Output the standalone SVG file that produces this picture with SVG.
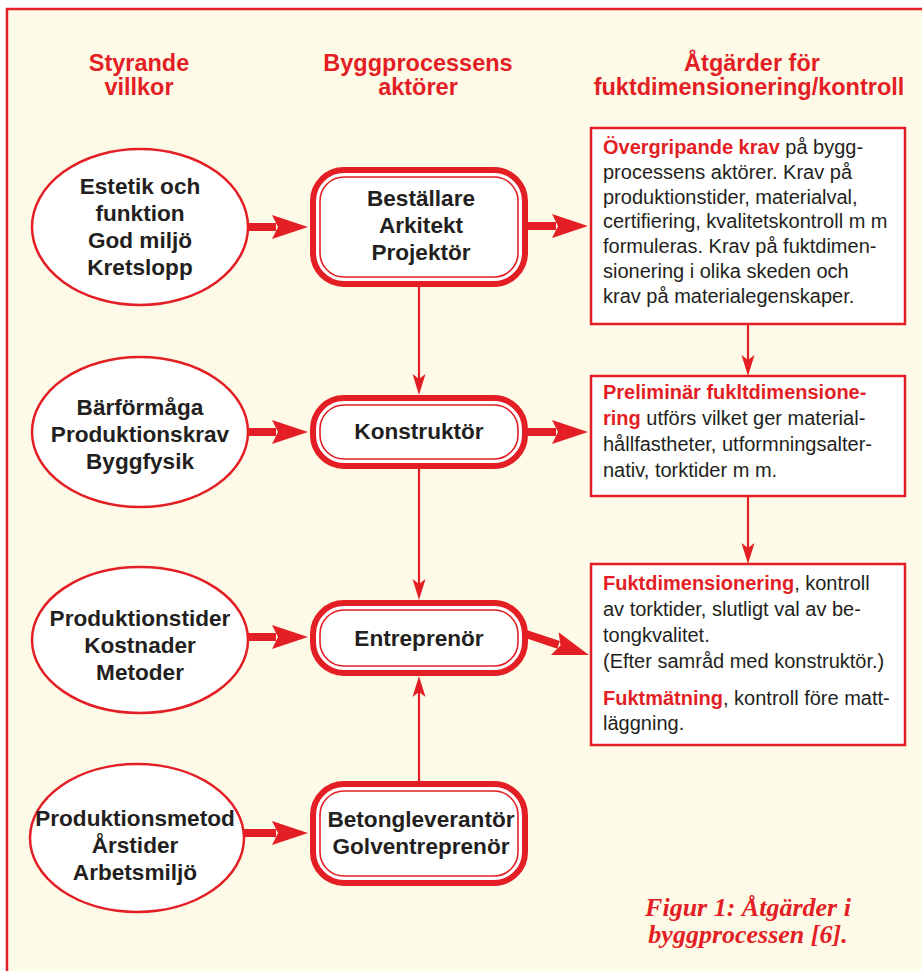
<svg xmlns="http://www.w3.org/2000/svg" width="922" height="971" viewBox="0 0 922 971">
<style>
.hdr{font-family:"Liberation Sans",Arial,sans-serif;font-weight:bold;font-size:23.5px;fill:#E31E24;text-anchor:middle}
.nt{font-family:"Liberation Sans",Arial,sans-serif;font-weight:bold;font-size:22.6px;fill:#231F20;text-anchor:middle}
.bt{font-family:"Liberation Sans",Arial,sans-serif;font-size:20px;fill:#231F20}
.hl{font-weight:bold;fill:#E31E24}
.ell{fill:#FFFFFF;stroke:#E31E24;stroke-width:2.5}
.outer{fill:#FFFFFF;stroke:#E31E24;stroke-width:6}
.inner{fill:none;stroke:#E31E24;stroke-width:1.6}
.rbox{fill:#FFFFFF;stroke:#E31E24;stroke-width:2.5}
.thick{stroke:#E31E24;stroke-width:8;fill:none;marker-end:url(#mThick)}
.thin{stroke:#E31E24;stroke-width:2.2;fill:none;marker-end:url(#mThin)}
.cap{font-family:"Liberation Serif","Times New Roman",serif;font-weight:bold;font-style:italic;font-size:26px;fill:#E31E24;text-anchor:middle}
</style>
<defs>
<marker id="mThick" markerUnits="userSpaceOnUse" markerWidth="40" markerHeight="30" refX="0" refY="0" orient="auto" overflow="visible">
<path d="M32,0 L-4,-12 L2,0 L-4,12 Z" fill="#E31E24"/>
</marker>
<marker id="mThin" markerUnits="userSpaceOnUse" markerWidth="24" markerHeight="16" refX="0" refY="0" orient="auto" overflow="visible">
<path d="M10,0 L-11,-6.5 L-6,0 L-11,6.5 Z" fill="#E31E24"/>
</marker>
</defs>
<rect x="0" y="0" width="922" height="971" fill="#FFFFFF"/>
<rect id="frame" x="7" y="9" width="930" height="980" fill="#FEFAE8" stroke="#E31E24" stroke-width="2.5"/>

<g id="headers">
<text class="hdr" x="139" y="71">Styrande</text>
<text class="hdr" x="139" y="95">villkor</text>
<text class="hdr" x="418" y="71">Byggprocessens</text>
<text class="hdr" x="418" y="95">aktörer</text>
<text class="hdr" x="752" y="71">Åtgärder för</text>
<text class="hdr" x="749" y="95">fuktdimensionering/kontroll</text>
</g>

<g id="connectors">
<line class="thick" x1="240" y1="227" x2="276" y2="227"/>
<line class="thick" x1="240" y1="432" x2="276" y2="432"/>
<line class="thick" x1="240" y1="637" x2="276" y2="637"/>
<line class="thick" x1="236" y1="833" x2="276" y2="833"/>
<line class="thick" x1="520" y1="226" x2="556" y2="226"/>
<line class="thick" x1="520" y1="432" x2="556" y2="432"/>
<line class="thick" x1="520" y1="632" x2="558.6" y2="644.9"/>
<line class="thin" x1="419" y1="284" x2="419" y2="385"/>
<line class="thin" x1="419" y1="466" x2="419" y2="590"/>
<line class="thin" x1="419" y1="784" x2="419" y2="686"/>
<line class="thin" x1="748" y1="324" x2="748" y2="366"/>
<line class="thin" x1="748" y1="496" x2="748" y2="554"/>
</g>

<g id="cond1">
<ellipse class="ell" cx="140" cy="227" rx="108" ry="78"/>
<text class="nt" x="140" y="194">Estetik och</text>
<text class="nt" x="140" y="221">funktion</text>
<text class="nt" x="140" y="248">God miljö</text>
<text class="nt" x="140" y="275">Kretslopp</text>
</g>
<g id="cond2">
<ellipse class="ell" cx="140" cy="432" rx="108" ry="75"/>
<text class="nt" x="140" y="415">Bärförmåga</text>
<text class="nt" x="140" y="442">Produktionskrav</text>
<text class="nt" x="140" y="469">Byggfysik</text>
</g>
<g id="cond3">
<ellipse class="ell" cx="140" cy="640" rx="108" ry="73"/>
<text class="nt" x="140" y="626">Produktionstider</text>
<text class="nt" x="140" y="653">Kostnader</text>
<text class="nt" x="140" y="680">Metoder</text>
</g>
<g id="cond4">
<ellipse class="ell" cx="137" cy="838" rx="107" ry="74"/>
<text class="nt" x="135" y="826">Produktionsmetod</text>
<text class="nt" x="135" y="853">Årstider</text>
<text class="nt" x="135" y="880">Arbetsmiljö</text>
</g>

<g id="actor1">
<rect class="outer" x="313" y="170" width="212" height="114" rx="31"/>
<rect class="inner" x="320" y="177" width="198" height="100" rx="24"/>
<text class="nt" x="421" y="206">Beställare</text>
<text class="nt" x="421" y="233">Arkitekt</text>
<text class="nt" x="421" y="260">Projektör</text>
</g>
<g id="actor2">
<rect class="outer" x="313" y="398" width="212" height="68" rx="31"/>
<rect class="inner" x="320" y="405" width="198" height="54" rx="24"/>
<text class="nt" x="419" y="439">Konstruktör</text>
</g>
<g id="actor3">
<rect class="outer" x="313" y="603" width="212" height="70" rx="31"/>
<rect class="inner" x="320" y="610" width="198" height="56" rx="24"/>
<text class="nt" x="419" y="646">Entreprenör</text>
</g>
<g id="actor4">
<rect class="outer" x="313" y="784" width="212" height="99" rx="31"/>
<rect class="inner" x="320" y="791" width="198" height="85" rx="24"/>
<text class="nt" x="421" y="827">Betongleverantör</text>
<text class="nt" x="421" y="854">Golventreprenör</text>
</g>

<g id="action1">
<rect class="rbox" x="591" y="128" width="314" height="196"/>
<text class="bt" x="603" y="154"><tspan class="hl">Övergripande krav</tspan> på bygg-</text>
<text class="bt" x="603" y="179">processens aktörer. Krav på</text>
<text class="bt" x="603" y="204">produktionstider, materialval,</text>
<text class="bt" x="603" y="228">certifiering, kvalitetskontroll m m</text>
<text class="bt" x="603" y="253">formuleras. Krav på fuktdimen-</text>
<text class="bt" x="603" y="278">sionering i olika skeden och</text>
<text class="bt" x="603" y="303">krav på materialegenskaper.</text>
</g>
<g id="action2">
<rect class="rbox" x="591" y="376" width="314" height="120"/>
<text class="bt" x="603" y="399"><tspan class="hl">Preliminär fukltdimensione-</tspan></text>
<text class="bt" x="603" y="425"><tspan class="hl">ring</tspan> utförs vilket ger material-</text>
<text class="bt" x="603" y="451">hållfastheter, utformningsalter-</text>
<text class="bt" x="603" y="477">nativ, torktider m m.</text>
</g>
<g id="action3">
<rect class="rbox" x="591" y="564" width="314" height="181"/>
<text class="bt" x="603" y="590"><tspan class="hl">Fuktdimensionering</tspan>, kontroll</text>
<text class="bt" x="603" y="616">av torktider, slutligt val av be-</text>
<text class="bt" x="603" y="642">tongkvalitet.</text>
<text class="bt" x="603" y="668">(Efter samråd med konstruktör.)</text>
<text class="bt" x="603" y="705"><tspan class="hl">Fuktmätning</tspan>, kontroll före matt-</text>
<text class="bt" x="603" y="730">läggning.</text>
</g>

<g id="caption">
<text class="cap" x="748" y="916">Figur 1: Åtgärder i</text>
<text class="cap" x="748" y="943">byggprocessen [6].</text>
</g>
</svg>
